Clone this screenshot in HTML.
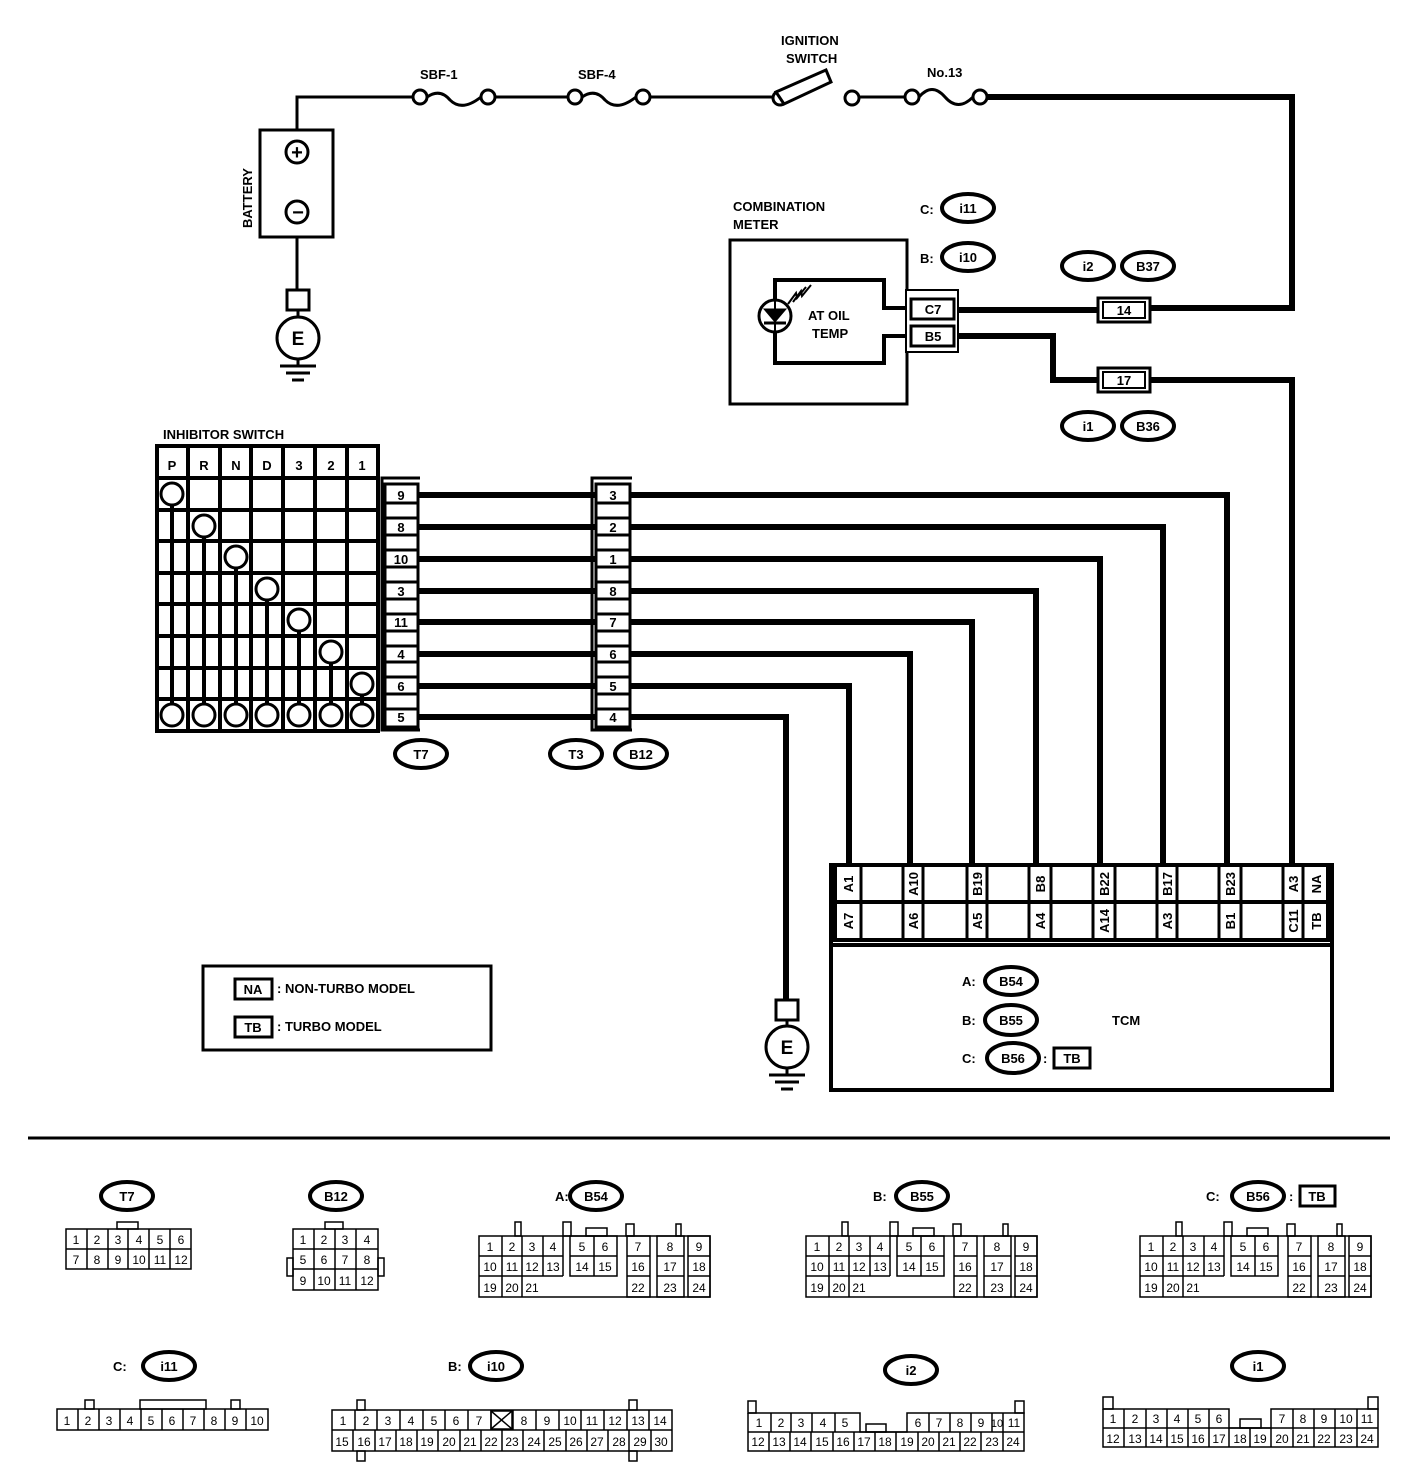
<!DOCTYPE html>
<html><head><meta charset="utf-8"><style>
html,body{margin:0;padding:0;background:#fff}
svg{display:block}
text{font-family:"Liberation Sans",sans-serif;font-weight:bold;fill:#000}
.s text{font-weight:normal}
</style></head><body>
<svg width="1408" height="1466" viewBox="0 0 1408 1466" xmlns="http://www.w3.org/2000/svg">
<g fill="none" stroke="#000">
<!-- top wire -->
<polyline points="297,130 297,97 413,97" stroke-width="3"/>
<line x1="495" y1="97" x2="568" y2="97" stroke-width="3"/>
<line x1="650" y1="97" x2="773" y2="97" stroke-width="3"/>
<line x1="859" y1="97" x2="905" y2="97" stroke-width="3"/>
<circle cx="420" cy="97" r="7" stroke-width="3"/><circle cx="488" cy="97" r="7" stroke-width="3"/>
<path d="M427,97 Q440,88 450,100 Q462,112 481,97" stroke-width="3"/>
<circle cx="575" cy="97" r="7" stroke-width="3"/><circle cx="643" cy="97" r="7" stroke-width="3"/>
<path d="M582,97 Q595,88 605,100 Q617,112 636,97" stroke-width="3"/>
<circle cx="780" cy="98" r="7" stroke-width="3"/><circle cx="852" cy="98" r="7" stroke-width="3"/>
<polygon points="776,92 826,70 831,82 784,104" stroke-width="3" fill="#fff"/>
<circle cx="912" cy="97" r="7" stroke-width="3"/><circle cx="980" cy="97" r="7" stroke-width="3"/>
<path d="M919,97 Q932,82 945,97 Q958,112 973,97" stroke-width="3"/>
<polyline points="987,97 1292,97 1292,308 1150,308" stroke-width="6"/>
<line x1="1098" y1="310" x2="955" y2="310" stroke-width="6"/>
<polyline points="955,336 1053,336 1053,380 1098,380" stroke-width="6"/>
<polyline points="1150,380 1292,380 1292,866" stroke-width="6"/>
<!-- battery -->
<rect x="260" y="130" width="73" height="107" stroke-width="3"/>
<circle cx="297" cy="152" r="11" stroke-width="3"/><circle cx="297" cy="212" r="11" stroke-width="3"/>
<line x1="297" y1="237" x2="297" y2="290" stroke-width="3"/>
<rect x="287" y="290" width="22" height="20" stroke-width="3"/>
<line x1="298" y1="310" x2="298" y2="317" stroke-width="3"/>
<circle cx="298" cy="338" r="21" stroke-width="3"/>
<line x1="298" y1="359" x2="298" y2="366" stroke-width="3"/>
<line x1="280" y1="366" x2="316" y2="366" stroke-width="3"/>
<line x1="286" y1="373" x2="310" y2="373" stroke-width="3"/>
<line x1="292" y1="380" x2="304" y2="380" stroke-width="3"/>
<!-- combination meter -->
<rect x="730" y="240" width="177" height="164" stroke-width="3"/>
<polyline points="910,308 884,308 884,280 775,280 775,363 884,363 884,336 910,336" stroke-width="4"/>
<circle cx="775" cy="316" r="16" stroke-width="3" fill="#fff"/>
<polygon points="764,309 786,309 775,322" fill="#000" stroke-width="1"/>
<line x1="764" y1="323" x2="786" y2="323" stroke-width="3"/>
<line x1="775" y1="300" x2="775" y2="332" stroke-width="2"/>
<polyline points="788,304 796,293 797,298 806,287" stroke-width="2"/>
<polyline points="793,302 801,291 802,296 811,285" stroke-width="2"/>
<rect x="906" y="290" width="52" height="62" stroke-width="2" fill="#fff"/>
<rect x="911" y="299" width="43" height="20" stroke-width="3"/>
<rect x="911" y="326" width="43" height="20" stroke-width="3"/>
<rect x="1098" y="298" width="52" height="24" stroke-width="3"/>
<rect x="1103" y="302" width="42" height="16" stroke-width="2"/>
<rect x="1098" y="368" width="52" height="24" stroke-width="3"/>
<rect x="1103" y="372" width="42" height="16" stroke-width="2"/>
<ellipse cx="968" cy="208" rx="26" ry="14" stroke-width="4"/>
<ellipse cx="968" cy="257" rx="26" ry="14" stroke-width="4"/>
<ellipse cx="1088" cy="266" rx="26" ry="14" stroke-width="4"/>
<ellipse cx="1148" cy="266" rx="26" ry="14" stroke-width="4"/>
<ellipse cx="1088" cy="426" rx="26" ry="14" stroke-width="4"/>
<ellipse cx="1148" cy="426" rx="26" ry="14" stroke-width="4"/>
<!-- inhibitor table -->
<rect x="157" y="446" width="221" height="285" stroke-width="4"/>
<g stroke-width="4">
<line x1="188" y1="446" x2="188" y2="731"/><line x1="220" y1="446" x2="220" y2="731"/>
<line x1="251" y1="446" x2="251" y2="731"/><line x1="283" y1="446" x2="283" y2="731"/>
<line x1="315" y1="446" x2="315" y2="731"/><line x1="347" y1="446" x2="347" y2="731"/>
<line x1="157" y1="478" x2="378" y2="478"/><line x1="157" y1="510" x2="378" y2="510"/>
<line x1="157" y1="541" x2="378" y2="541"/><line x1="157" y1="573" x2="378" y2="573"/>
<line x1="157" y1="604" x2="378" y2="604"/><line x1="157" y1="636" x2="378" y2="636"/>
<line x1="157" y1="668" x2="378" y2="668"/><line x1="157" y1="699" x2="378" y2="699"/>
<line x1="172" y1="494" x2="172" y2="715"/><line x1="204" y1="526" x2="204" y2="715"/>
<line x1="236" y1="557" x2="236" y2="715"/><line x1="267" y1="589" x2="267" y2="715"/>
<line x1="299" y1="620" x2="299" y2="715"/><line x1="331" y1="652" x2="331" y2="715"/>
<line x1="362" y1="684" x2="362" y2="715"/>
</g>
<g stroke-width="3" fill="#fff">
<circle cx="172" cy="494" r="11"/><circle cx="204" cy="526" r="11"/><circle cx="236" cy="557" r="11"/>
<circle cx="267" cy="589" r="11"/><circle cx="299" cy="620" r="11"/><circle cx="331" cy="652" r="11"/>
<circle cx="362" cy="684" r="11"/>
<circle cx="172" cy="715" r="11"/><circle cx="204" cy="715" r="11"/><circle cx="236" cy="715" r="11"/>
<circle cx="267" cy="715" r="11"/><circle cx="299" cy="715" r="11"/><circle cx="331" cy="715" r="11"/>
<circle cx="362" cy="715" r="11"/>
</g>
<!-- T7 and B12 connectors -->
<polyline points="420,478 382,478 382,730 420,730" stroke-width="3"/>
<polyline points="632,478 592,478 592,730 632,730" stroke-width="3"/>
<rect x="385" y="484" width="33" height="243" stroke-width="3"/>
<rect x="596" y="484" width="34" height="243" stroke-width="3"/>
<g stroke-width="3">
<line x1="385" y1="503" x2="418" y2="503"/><line x1="385" y1="518" x2="418" y2="518"/>
<line x1="385" y1="535" x2="418" y2="535"/><line x1="385" y1="550" x2="418" y2="550"/>
<line x1="385" y1="567" x2="418" y2="567"/><line x1="385" y1="582" x2="418" y2="582"/>
<line x1="385" y1="599" x2="418" y2="599"/><line x1="385" y1="614" x2="418" y2="614"/>
<line x1="385" y1="631" x2="418" y2="631"/><line x1="385" y1="646" x2="418" y2="646"/>
<line x1="385" y1="662" x2="418" y2="662"/><line x1="385" y1="677" x2="418" y2="677"/>
<line x1="385" y1="694" x2="418" y2="694"/><line x1="385" y1="709" x2="418" y2="709"/>
<line x1="596" y1="503" x2="630" y2="503"/><line x1="596" y1="518" x2="630" y2="518"/>
<line x1="596" y1="535" x2="630" y2="535"/><line x1="596" y1="550" x2="630" y2="550"/>
<line x1="596" y1="567" x2="630" y2="567"/><line x1="596" y1="582" x2="630" y2="582"/>
<line x1="596" y1="599" x2="630" y2="599"/><line x1="596" y1="614" x2="630" y2="614"/>
<line x1="596" y1="631" x2="630" y2="631"/><line x1="596" y1="646" x2="630" y2="646"/>
<line x1="596" y1="662" x2="630" y2="662"/><line x1="596" y1="677" x2="630" y2="677"/>
<line x1="596" y1="694" x2="630" y2="694"/><line x1="596" y1="709" x2="630" y2="709"/>
</g>
<g stroke-width="6">
<line x1="418" y1="495" x2="596" y2="495"/><line x1="418" y1="527" x2="596" y2="527"/>
<line x1="418" y1="559" x2="596" y2="559"/><line x1="418" y1="591" x2="596" y2="591"/>
<line x1="418" y1="622" x2="596" y2="622"/><line x1="418" y1="654" x2="596" y2="654"/>
<line x1="418" y1="686" x2="596" y2="686"/><line x1="418" y1="717" x2="596" y2="717"/>
<polyline points="630,495 1227,495 1227,866"/>
<polyline points="630,527 1163,527 1163,866"/>
<polyline points="630,559 1100,559 1100,866"/>
<polyline points="630,591 1036,591 1036,866"/>
<polyline points="630,622 972,622 972,866"/>
<polyline points="630,654 910,654 910,866"/>
<polyline points="630,686 849,686 849,866"/>
<polyline points="630,717 786,717 786,1000"/>
</g>
<ellipse cx="421" cy="754" rx="26" ry="14" stroke-width="4"/>
<ellipse cx="576" cy="754" rx="26" ry="14" stroke-width="4"/>
<ellipse cx="641" cy="754" rx="26" ry="14" stroke-width="4"/>
<!-- ground 2 -->
<rect x="776" y="1000" width="22" height="20" stroke-width="3"/>
<line x1="787" y1="1020" x2="787" y2="1026" stroke-width="3"/>
<circle cx="787" cy="1047" r="21" stroke-width="3"/>
<line x1="787" y1="1068" x2="787" y2="1075" stroke-width="3"/>
<line x1="769" y1="1075" x2="805" y2="1075" stroke-width="3"/>
<line x1="775" y1="1082" x2="799" y2="1082" stroke-width="3"/>
<line x1="781" y1="1089" x2="793" y2="1089" stroke-width="3"/>
<!-- TCM -->
<rect x="835" y="865" width="493" height="75" stroke-width="4"/>
<line x1="835" y1="902" x2="1328" y2="902" stroke-width="4"/>
<g stroke-width="3">
<line x1="861" y1="865" x2="861" y2="940"/><line x1="903" y1="865" x2="903" y2="940"/>
<line x1="923" y1="865" x2="923" y2="940"/><line x1="967" y1="865" x2="967" y2="940"/>
<line x1="987" y1="865" x2="987" y2="940"/><line x1="1029" y1="865" x2="1029" y2="940"/>
<line x1="1051" y1="865" x2="1051" y2="940"/><line x1="1093" y1="865" x2="1093" y2="940"/>
<line x1="1115" y1="865" x2="1115" y2="940"/><line x1="1157" y1="865" x2="1157" y2="940"/>
<line x1="1177" y1="865" x2="1177" y2="940"/><line x1="1219" y1="865" x2="1219" y2="940"/>
<line x1="1241" y1="865" x2="1241" y2="940"/><line x1="1283" y1="865" x2="1283" y2="940"/>
<line x1="1303" y1="865" x2="1303" y2="940"/>
</g>
<polyline points="831,863 831,1090 1332,1090 1332,863" stroke-width="4"/>
<line x1="831" y1="945" x2="1332" y2="945" stroke-width="4"/>
<ellipse cx="1011" cy="981" rx="26" ry="14" stroke-width="4"/>
<ellipse cx="1011" cy="1020" rx="26" ry="15" stroke-width="4"/>
<ellipse cx="1013" cy="1058" rx="26" ry="15" stroke-width="4"/>
<rect x="1054" y="1048" width="36" height="20" stroke-width="3"/>
<!-- legend -->
<rect x="203" y="966" width="288" height="84" stroke-width="3"/>
<rect x="235" y="979" width="37" height="20" stroke-width="3"/>
<rect x="235" y="1017" width="37" height="20" stroke-width="3"/>
<line x1="28" y1="1138" x2="1390" y2="1138" stroke-width="3"/>
<!-- bottom ovals -->
<ellipse cx="127" cy="1196" rx="26" ry="14" stroke-width="4"/>
<ellipse cx="336" cy="1196" rx="26" ry="14" stroke-width="4"/>
<ellipse cx="596" cy="1196" rx="26" ry="14" stroke-width="4"/>
<ellipse cx="922" cy="1196" rx="26" ry="14" stroke-width="4"/>
<ellipse cx="1258" cy="1196" rx="26" ry="14" stroke-width="4"/>
<rect x="1300" y="1186" width="35" height="20" stroke-width="3"/>
<ellipse cx="169" cy="1366" rx="26" ry="14" stroke-width="4"/>
<ellipse cx="496" cy="1366" rx="26" ry="14" stroke-width="4"/>
<ellipse cx="911" cy="1370" rx="26" ry="14" stroke-width="4"/>
<ellipse cx="1258" cy="1366" rx="26" ry="14" stroke-width="4"/>
</g>
<!-- small connector grids -->
<g fill="none" stroke="#000" stroke-width="1.5">
<!-- T7 -->
<rect x="117" y="1222" width="21" height="7"/>
<rect x="66" y="1229" width="125" height="40"/>
<line x1="66" y1="1249" x2="191" y2="1249"/>
<line x1="87" y1="1229" x2="87" y2="1269"/><line x1="108" y1="1229" x2="108" y2="1269"/>
<line x1="128" y1="1229" x2="128" y2="1269"/><line x1="149" y1="1229" x2="149" y2="1269"/>
<line x1="170" y1="1229" x2="170" y2="1269"/>
<!-- B12 -->
<rect x="325" y="1222" width="18" height="7"/>
<rect x="287" y="1258" width="6" height="18"/><rect x="378" y="1258" width="6" height="18"/>
<rect x="293" y="1229" width="85" height="61"/>
<line x1="293" y1="1249" x2="378" y2="1249"/><line x1="293" y1="1269" x2="378" y2="1269"/>
<line x1="314" y1="1229" x2="314" y2="1290"/><line x1="335" y1="1229" x2="335" y2="1290"/>
<line x1="356" y1="1229" x2="356" y2="1290"/>
<!-- i11 -->
<rect x="85" y="1400" width="9" height="9"/><rect x="140" y="1400" width="66" height="9"/><rect x="231" y="1400" width="9" height="9"/>
<rect x="57" y="1409" width="211" height="21"/>
<line x1="78" y1="1409" x2="78" y2="1430"/><line x1="99" y1="1409" x2="99" y2="1430"/>
<line x1="120" y1="1409" x2="120" y2="1430"/><line x1="141" y1="1409" x2="141" y2="1430"/>
<line x1="162" y1="1409" x2="162" y2="1430"/><line x1="183" y1="1409" x2="183" y2="1430"/>
<line x1="204" y1="1409" x2="204" y2="1430"/><line x1="225" y1="1409" x2="225" y2="1430"/>
<line x1="246" y1="1409" x2="246" y2="1430"/>
<!-- i10 -->
<rect x="357" y="1400" width="8" height="10"/><rect x="629" y="1400" width="8" height="10"/>
<rect x="357" y="1451" width="8" height="10"/><rect x="629" y="1451" width="8" height="10"/>
<rect x="332" y="1410" width="340" height="41"/>
<line x1="332" y1="1430" x2="672" y2="1430"/>
<rect x="491" y="1411" width="21" height="18"/>
<line x1="491" y1="1411" x2="512" y2="1429"/><line x1="512" y1="1411" x2="491" y2="1429"/>
<line x1="355" y1="1410" x2="355" y2="1430"/><line x1="377" y1="1410" x2="377" y2="1430"/>
<line x1="400" y1="1410" x2="400" y2="1430"/><line x1="423" y1="1410" x2="423" y2="1430"/>
<line x1="445" y1="1410" x2="445" y2="1430"/><line x1="468" y1="1410" x2="468" y2="1430"/>
<line x1="491" y1="1410" x2="491" y2="1430"/><line x1="513" y1="1410" x2="513" y2="1430"/>
<line x1="536" y1="1410" x2="536" y2="1430"/><line x1="559" y1="1410" x2="559" y2="1430"/>
<line x1="581" y1="1410" x2="581" y2="1430"/><line x1="604" y1="1410" x2="604" y2="1430"/>
<line x1="627" y1="1410" x2="627" y2="1430"/><line x1="649" y1="1410" x2="649" y2="1430"/>
<line x1="353" y1="1430" x2="353" y2="1451"/><line x1="375" y1="1430" x2="375" y2="1451"/>
<line x1="396" y1="1430" x2="396" y2="1451"/><line x1="417" y1="1430" x2="417" y2="1451"/>
<line x1="438" y1="1430" x2="438" y2="1451"/><line x1="460" y1="1430" x2="460" y2="1451"/>
<line x1="481" y1="1430" x2="481" y2="1451"/><line x1="502" y1="1430" x2="502" y2="1451"/>
<line x1="523" y1="1430" x2="523" y2="1451"/><line x1="544" y1="1430" x2="544" y2="1451"/>
<line x1="566" y1="1430" x2="566" y2="1451"/><line x1="587" y1="1430" x2="587" y2="1451"/>
<line x1="608" y1="1430" x2="608" y2="1451"/><line x1="629" y1="1430" x2="629" y2="1451"/>
<line x1="651" y1="1430" x2="651" y2="1451"/>
<!-- i2 -->
<rect x="748" y="1401" width="8" height="12"/><rect x="1015" y="1401" width="9" height="12"/>
<rect x="866" y="1424" width="20" height="8"/>
<polyline points="748,1413 748,1451 1024,1451 1024,1413 907,1413 907,1432 860,1432 860,1413 748,1413"/>
<line x1="748" y1="1432" x2="1024" y2="1432"/>
<line x1="771" y1="1413" x2="771" y2="1432"/><line x1="791" y1="1413" x2="791" y2="1432"/>
<line x1="812" y1="1413" x2="812" y2="1432"/><line x1="835" y1="1413" x2="835" y2="1432"/>
<line x1="929" y1="1413" x2="929" y2="1432"/><line x1="950" y1="1413" x2="950" y2="1432"/>
<line x1="971" y1="1413" x2="971" y2="1432"/><line x1="992" y1="1413" x2="992" y2="1432"/>
<line x1="1003" y1="1413" x2="1003" y2="1432"/>
<line x1="769" y1="1432" x2="769" y2="1451"/><line x1="790" y1="1432" x2="790" y2="1451"/>
<line x1="811" y1="1432" x2="811" y2="1451"/><line x1="833" y1="1432" x2="833" y2="1451"/>
<line x1="854" y1="1432" x2="854" y2="1451"/><line x1="875" y1="1432" x2="875" y2="1451"/>
<line x1="896" y1="1432" x2="896" y2="1451"/><line x1="918" y1="1432" x2="918" y2="1451"/>
<line x1="939" y1="1432" x2="939" y2="1451"/><line x1="960" y1="1432" x2="960" y2="1451"/>
<line x1="981" y1="1432" x2="981" y2="1451"/><line x1="1003" y1="1432" x2="1003" y2="1451"/>
<!-- i1 -->
<rect x="1103" y="1397" width="10" height="12"/><rect x="1368" y="1397" width="10" height="12"/>
<rect x="1240" y="1419" width="21" height="9"/>
<polyline points="1103,1409 1103,1447 1378,1447 1378,1409 1271,1409 1271,1428 1229,1428 1229,1409 1103,1409"/>
<line x1="1103" y1="1428" x2="1378" y2="1428"/>
<line x1="1124" y1="1409" x2="1124" y2="1428"/><line x1="1146" y1="1409" x2="1146" y2="1428"/>
<line x1="1167" y1="1409" x2="1167" y2="1428"/><line x1="1188" y1="1409" x2="1188" y2="1428"/>
<line x1="1209" y1="1409" x2="1209" y2="1428"/>
<line x1="1293" y1="1409" x2="1293" y2="1428"/><line x1="1314" y1="1409" x2="1314" y2="1428"/>
<line x1="1335" y1="1409" x2="1335" y2="1428"/><line x1="1357" y1="1409" x2="1357" y2="1428"/>
<line x1="1124" y1="1428" x2="1124" y2="1447"/><line x1="1146" y1="1428" x2="1146" y2="1447"/>
<line x1="1167" y1="1428" x2="1167" y2="1447"/><line x1="1188" y1="1428" x2="1188" y2="1447"/>
<line x1="1209" y1="1428" x2="1209" y2="1447"/><line x1="1229" y1="1428" x2="1229" y2="1447"/>
<line x1="1250" y1="1428" x2="1250" y2="1447"/><line x1="1271" y1="1428" x2="1271" y2="1447"/>
<line x1="1293" y1="1428" x2="1293" y2="1447"/><line x1="1314" y1="1428" x2="1314" y2="1447"/>
<line x1="1335" y1="1428" x2="1335" y2="1447"/><line x1="1357" y1="1428" x2="1357" y2="1447"/>
</g>
<!-- 24-pin TCM connectors (B54 / B55 / B56) -->
<defs>
<g id="c24" fill="none" stroke="#000" stroke-width="1.5">
<rect x="36" y="-14" width="6" height="14"/><rect x="84" y="-14" width="8" height="14"/>
<rect x="107" y="-8" width="21" height="8"/><rect x="147" y="-12" width="8" height="12"/>
<rect x="197" y="-12" width="5" height="12"/>
<rect x="0" y="0" width="231" height="61"/>
<line x1="0" y1="20" x2="84" y2="20"/><line x1="0" y1="40" x2="84" y2="40"/>
<line x1="23" y1="0" x2="23" y2="61"/><line x1="43" y1="0" x2="43" y2="61"/><line x1="64" y1="0" x2="64" y2="40"/>
<line x1="84" y1="0" x2="84" y2="40"/>
<rect x="91" y="0" width="47" height="40"/><line x1="91" y1="20" x2="138" y2="20"/><line x1="115" y1="0" x2="115" y2="40"/>
<rect x="148" y="0" width="23" height="61"/><line x1="148" y1="20" x2="171" y2="20"/><line x1="148" y1="40" x2="171" y2="40"/>
<rect x="178" y="0" width="27" height="61"/><line x1="178" y1="20" x2="205" y2="20"/><line x1="178" y1="40" x2="205" y2="40"/>
<rect x="209" y="0" width="22" height="61"/><line x1="209" y1="20" x2="231" y2="20"/><line x1="209" y1="40" x2="231" y2="40"/>
</g>
</defs>
<use href="#c24" x="479" y="1236"/>
<use href="#c24" x="806" y="1236"/>
<use href="#c24" x="1140" y="1236"/>

<!-- TEXT -->
<g font-size="13">
<text x="420" y="79">SBF-1</text>
<text x="578" y="79">SBF-4</text>
<text x="781" y="45">IGNITION</text>
<text x="786" y="63">SWITCH</text>
<text x="927" y="77">No.13</text>
<text x="252" y="228" transform="rotate(-90 252 228)">BATTERY</text>
<text x="733" y="211">COMBINATION</text>
<text x="733" y="229">METER</text>
<text x="808" y="320">AT OIL</text>
<text x="812" y="338">TEMP</text>
<text x="920" y="214">C:</text><text x="920" y="263">B:</text>
<text x="163" y="439">INHIBITOR SWITCH</text>
<text x="1112" y="1025">TCM</text>
<text x="962" y="986">A:</text><text x="962" y="1025">B:</text><text x="962" y="1063">C:</text>
<text x="1043" y="1063">:</text>
<text x="277" y="993">: NON-TURBO MODEL</text>
<text x="277" y="1031">: TURBO MODEL</text>
</g>
<g font-size="20" text-anchor="middle">
<text x="297" y="159">+</text>
<text x="298" y="219">−</text>
<text x="298" y="345" font-size="19">E</text>
<text x="787" y="1054" font-size="19">E</text>
</g>
<g font-size="13" text-anchor="middle">
<text x="933" y="314">C7</text><text x="933" y="341">B5</text>
<text x="1124" y="315">14</text><text x="1124" y="385">17</text>
<text x="968" y="213">i11</text><text x="968" y="262">i10</text>
<text x="1088" y="271">i2</text><text x="1148" y="271">B37</text>
<text x="1088" y="431">i1</text><text x="1148" y="431">B36</text>
<text x="172" y="470">P</text><text x="204" y="470">R</text><text x="236" y="470">N</text><text x="267" y="470">D</text>
<text x="299" y="470">3</text><text x="331" y="470">2</text><text x="362" y="470">1</text>
<text x="401" y="500">9</text><text x="401" y="532">8</text><text x="401" y="564">10</text><text x="401" y="596">3</text>
<text x="401" y="627">11</text><text x="401" y="659">4</text><text x="401" y="691">6</text><text x="401" y="722">5</text>
<text x="613" y="500">3</text><text x="613" y="532">2</text><text x="613" y="564">1</text><text x="613" y="596">8</text>
<text x="613" y="627">7</text><text x="613" y="659">6</text><text x="613" y="691">5</text><text x="613" y="722">4</text>
<text x="421" y="759">T7</text><text x="576" y="759">T3</text><text x="641" y="759">B12</text>
<text x="1011" y="986">B54</text><text x="1011" y="1025">B55</text><text x="1013" y="1063">B56</text>
<text x="1072" y="1063">TB</text>
<text x="253" y="994">NA</text><text x="253" y="1032">TB</text>
<text x="127" y="1201">T7</text><text x="336" y="1201">B12</text>
<text x="596" y="1201">B54</text><text x="922" y="1201">B55</text><text x="1258" y="1201">B56</text>
<text x="1317" y="1201">TB</text>
<text x="169" y="1371">i11</text><text x="496" y="1371">i10</text><text x="911" y="1375">i2</text><text x="1258" y="1371">i1</text>
</g>
<g font-size="13">
<text x="555" y="1201">A:</text><text x="873" y="1201">B:</text><text x="1206" y="1201">C:</text><text x="1289" y="1201">:</text>
<text x="113" y="1371">C:</text><text x="448" y="1371">B:</text>
</g>
<!-- TCM rotated labels -->
<g font-size="13" text-anchor="middle">
<text transform="translate(853,884) rotate(-90)">A1</text>
<text transform="translate(918,884) rotate(-90)">A10</text>
<text transform="translate(982,884) rotate(-90)">B19</text>
<text transform="translate(1045,884) rotate(-90)">B8</text>
<text transform="translate(1109,884) rotate(-90)">B22</text>
<text transform="translate(1172,884) rotate(-90)">B17</text>
<text transform="translate(1235,884) rotate(-90)">B23</text>
<text transform="translate(1298,884) rotate(-90)">A3</text>
<text transform="translate(1321,884) rotate(-90)">NA</text>
<text transform="translate(853,921) rotate(-90)">A7</text>
<text transform="translate(918,921) rotate(-90)">A6</text>
<text transform="translate(982,921) rotate(-90)">A5</text>
<text transform="translate(1045,921) rotate(-90)">A4</text>
<text transform="translate(1109,921) rotate(-90)">A14</text>
<text transform="translate(1172,921) rotate(-90)">A3</text>
<text transform="translate(1235,921) rotate(-90)">B1</text>
<text transform="translate(1298,921) rotate(-90)">C11</text>
<text transform="translate(1321,921) rotate(-90)">TB</text>
</g>
<!-- connector numbers -->
<g class="s" font-size="12" text-anchor="middle">
<text x="76" y="1244">1</text><text x="97" y="1244">2</text><text x="118" y="1244">3</text><text x="139" y="1244">4</text><text x="160" y="1244">5</text><text x="181" y="1244">6</text>
<text x="76" y="1264">7</text><text x="97" y="1264">8</text><text x="118" y="1264">9</text><text x="139" y="1264">10</text><text x="160" y="1264">11</text><text x="181" y="1264">12</text>
<text x="303" y="1244">1</text><text x="324" y="1244">2</text><text x="345" y="1244">3</text><text x="367" y="1244">4</text>
<text x="303" y="1264">5</text><text x="324" y="1264">6</text><text x="345" y="1264">7</text><text x="367" y="1264">8</text>
<text x="303" y="1285">9</text><text x="324" y="1285">10</text><text x="345" y="1285">11</text><text x="367" y="1285">12</text>
<text x="67" y="1425">1</text><text x="88" y="1425">2</text><text x="109" y="1425">3</text><text x="130" y="1425">4</text><text x="151" y="1425">5</text>
<text x="172" y="1425">6</text><text x="193" y="1425">7</text><text x="214" y="1425">8</text><text x="235" y="1425">9</text><text x="257" y="1425">10</text>
</g>
<g class="s" font-size="12" text-anchor="middle" id="b54t">
<text x="490" y="1251">1</text><text x="512" y="1251">2</text><text x="532" y="1251">3</text><text x="553" y="1251">4</text>
<text x="582" y="1251">5</text><text x="605" y="1251">6</text><text x="638" y="1251">7</text><text x="670" y="1251">8</text><text x="699" y="1251">9</text>
<text x="490" y="1271">10</text><text x="512" y="1271">11</text><text x="532" y="1271">12</text><text x="553" y="1271">13</text>
<text x="582" y="1271">14</text><text x="605" y="1271">15</text><text x="638" y="1271">16</text><text x="670" y="1271">17</text><text x="699" y="1271">18</text>
<text x="490" y="1292">19</text><text x="512" y="1292">20</text><text x="532" y="1292">21</text>
<text x="638" y="1292">22</text><text x="670" y="1292">23</text><text x="699" y="1292">24</text>
</g>
<use href="#b54t" x="327" y="0"/>
<use href="#b54t" x="661" y="0"/>
<g class="s" font-size="12" text-anchor="middle">
<text x="343" y="1425">1</text><text x="366" y="1425">2</text><text x="388" y="1425">3</text><text x="411" y="1425">4</text><text x="434" y="1425">5</text>
<text x="456" y="1425">6</text><text x="479" y="1425">7</text><text x="524" y="1425">8</text><text x="547" y="1425">9</text><text x="570" y="1425">10</text>
<text x="592" y="1425">11</text><text x="615" y="1425">12</text><text x="638" y="1425">13</text><text x="660" y="1425">14</text>
<text x="342" y="1446">15</text><text x="364" y="1446">16</text><text x="385" y="1446">17</text><text x="406" y="1446">18</text><text x="427" y="1446">19</text>
<text x="449" y="1446">20</text><text x="470" y="1446">21</text><text x="491" y="1446">22</text><text x="512" y="1446">23</text><text x="534" y="1446">24</text>
<text x="555" y="1446">25</text><text x="576" y="1446">26</text><text x="597" y="1446">27</text><text x="619" y="1446">28</text><text x="640" y="1446">29</text><text x="661" y="1446">30</text>
<text x="759" y="1427">1</text><text x="781" y="1427">2</text><text x="801" y="1427">3</text><text x="823" y="1427">4</text><text x="845" y="1427">5</text>
<text x="918" y="1427">6</text><text x="939" y="1427">7</text><text x="960" y="1427">8</text><text x="981" y="1427">9</text><text x="997" y="1427" font-size="11">10</text><text x="1014" y="1427">11</text>
<text x="758" y="1446">12</text><text x="779" y="1446">13</text><text x="800" y="1446">14</text><text x="822" y="1446">15</text><text x="843" y="1446">16</text>
<text x="864" y="1446">17</text><text x="885" y="1446">18</text><text x="907" y="1446">19</text><text x="928" y="1446">20</text><text x="949" y="1446">21</text>
<text x="970" y="1446">22</text><text x="992" y="1446">23</text><text x="1013" y="1446">24</text>
<text x="1113" y="1423">1</text><text x="1135" y="1423">2</text><text x="1156" y="1423">3</text><text x="1177" y="1423">4</text><text x="1198" y="1423">5</text><text x="1219" y="1423">6</text>
<text x="1282" y="1423">7</text><text x="1303" y="1423">8</text><text x="1324" y="1423">9</text><text x="1346" y="1423">10</text><text x="1367" y="1423">11</text>
<text x="1113" y="1443">12</text><text x="1135" y="1443">13</text><text x="1156" y="1443">14</text><text x="1177" y="1443">15</text><text x="1198" y="1443">16</text>
<text x="1219" y="1443">17</text><text x="1240" y="1443">18</text><text x="1260" y="1443">19</text><text x="1282" y="1443">20</text><text x="1303" y="1443">21</text>
<text x="1324" y="1443">22</text><text x="1346" y="1443">23</text><text x="1367" y="1443">24</text>
</g>
</svg>
</body></html>
